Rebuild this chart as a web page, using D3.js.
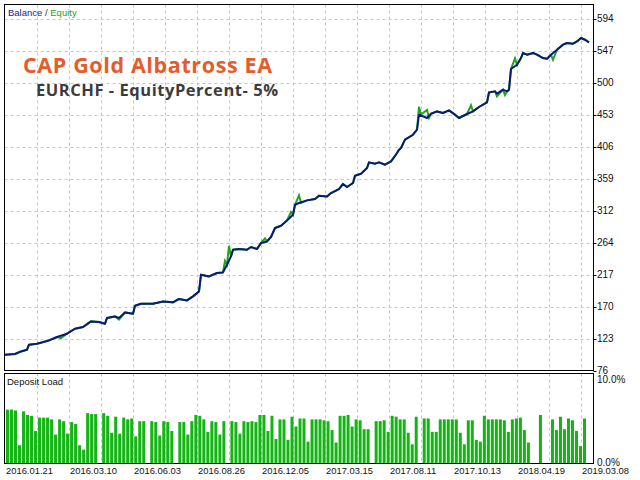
<!DOCTYPE html>
<html><head><meta charset="utf-8">
<script src="https://cdn.jsdelivr.net/npm/d3@7"></script>
<style>html,body{margin:0;padding:0;background:#fff;}svg{display:block;}</style>
</head><body>
<svg id="c" width="640" height="480"></svg>
<script>
// ---------- DATA ----------
const yTickLabels = [76,123,170,217,264,312,359,406,453,500,547,594];
const dateLabels = ["2016.01.21","2016.03.10","2016.06.03","2016.08.26","2016.12.05","2017.03.15","2017.08.11","2017.10.13","2018.04.19","2019.03.08"];
const totalTrades = 294;
// [trade #, balance]
const balance = [[0,100.0],[5,101.0],[8,104.8],[11,107.3],[12,114.7],[16,116.2],[22,121.0],[26,126.0],[31,130.9],[35,138.2],[39,140.7],[43,149.0],[47,148.1],[50,145.6],[51,154.0],[55,156.3],[57,154.0],[60,162.2],[64,160.3],[65,172.1],[68,175.0],[74,175.0],[79,178.4],[84,177.0],[87,182.0],[91,179.9],[94,185.8],[97,193.1],[98,217.7],[102,215.2],[106,220.2],[109,221.1],[111,232.4],[113,244.6],[114,254.5],[117,255.5],[121,254.5],[123,258.5],[126,255.5],[128,264.4],[131,266.7],[133,273.2],[135,286.4],[138,289.8],[141,297.6],[144,306.0],[145,320.7],[147,323.2],[151,327.1],[155,329.1],[157,334.0],[161,332.9],[163,337.9],[167,343.8],[169,351.2],[171,346.8],[174,352.7],[175,363.4],[178,366.3],[181,374.7],[182,383.0],[185,381.1],[187,383.0],[190,379.6],[193,384.4],[196,396.8],[197,401.7],[198,404.2],[200,416.4],[204,423.7],[206,431.1],[207,453.2],[211,448.3],[213,454.6],[216,458.0],[219,455.7],[222,459.5],[225,453.2],[227,448.3],[231,454.2],[234,458.0],[237,464.5],[241,471.3],[242,486.0],[245,487.5],[246,484.1],[249,490.0],[251,487.5],[252,490.0],[253,520.4],[256,526.7],[258,536.6],[259,544.0],[261,541.5],[264,544.0],[266,541.5],[269,536.6],[271,535.6],[273,541.5],[276,548.8],[279,556.2],[281,558.7],[284,557.7],[286,561.0],[288,566.0],[290,563.5],[292,559.6]];
// [trade #, equity]
const equity = [[0,100.0],[5,101.0],[8,104.8],[11,107.3],[12,114.7],[16,116.2],[22,121.0],[26,126.0],[28,124.5],[31,130.9],[35,138.2],[39,140.7],[43,149.0],[47,148.1],[50,145.6],[51,154.0],[55,156.3],[57,151.5],[60,162.2],[64,160.3],[65,172.1],[68,175.0],[74,175.0],[79,178.4],[84,177.0],[87,182.0],[91,179.9],[94,185.8],[97,193.1],[98,217.7],[102,215.2],[106,220.2],[109,221.1],[110,238.0],[111,232.4],[112,260.0],[113,244.6],[114,254.5],[117,255.5],[121,254.5],[123,258.5],[126,255.5],[128,264.4],[130,271.0],[131,266.7],[133,273.2],[135,286.4],[138,289.8],[141,297.6],[143,310.0],[144,306.0],[145,320.7],[147,334.5],[148,323.5],[151,327.1],[155,329.1],[157,334.0],[161,332.9],[163,337.9],[167,343.8],[169,351.2],[171,346.8],[174,352.7],[175,363.4],[178,366.3],[180,372.0],[181,374.7],[182,383.0],[185,381.1],[187,383.0],[190,379.6],[193,384.4],[195,392.0],[196,396.8],[197,401.7],[198,404.2],[200,416.4],[204,423.7],[206,431.1],[207,465.0],[208,453.5],[211,460.0],[212,448.5],[213,454.6],[216,458.0],[219,455.7],[222,459.5],[225,453.2],[227,448.3],[231,454.2],[233,467.0],[234,458.0],[237,464.5],[241,471.3],[242,486.0],[245,487.5],[246,480.0],[249,490.0],[250,482.0],[251,487.5],[252,490.0],[253,520.4],[255,536.0],[256,526.7],[258,536.6],[259,544.0],[261,541.5],[264,544.0],[266,541.5],[269,536.6],[271,535.6],[273,541.5],[274,534.0],[276,548.8],[279,556.2],[281,558.7],[284,557.7],[286,561.0],[288,566.0],[290,563.5],[292,559.6]];
// deposit load, % per bar
const depositLoad = [6.0,6.0,5.9,2.0,5.8,5.4,5.3,3.6,5.1,5.1,5.1,4.9,3.2,4.9,4.7,3.3,4.6,4.4,2.0,1.5,
5.6,5.5,5.5,0,5.6,5.3,3.4,5.2,3.3,5.1,4.9,5.0,3.0,4.7,4.7,0,4.7,4.6,3.1,4.7,
4.6,3.6,0,4.6,4.6,3.2,4.7,5.4,5.3,4.9,3.5,4.7,4.6,3.2,4.7,0,4.7,4.6,3.3,4.7,
4.6,4.7,4.6,5.4,5.4,3.6,5.3,2.7,4.9,4.9,2.6,5.2,4.1,5.0,5.0,2.4,4.9,4.9,4.9,4.8,
4.7,3.7,2.3,5.3,5.3,5.4,4.1,4.9,4.8,3.8,3.8,0,4.7,4.7,4.8,3.5,5.3,5.2,4.9,4.9,
3.4,2.1,5.2,0,5.0,5.0,3.5,3.5,4.9,4.9,4.9,4.9,4.9,3.4,2.1,4.8,4.8,2.6,2.4,5.3,
4.9,4.9,4.9,4.9,4.8,3.5,4.9,5.0,5.1,3.7,2.3,0,0,5.4,0,0,4.9,3.7,5.2,3.8,
5.0,4.8,3.6,1.9,5.0];
const loadTicks = [0,10];

// ---------- DRAW ----------
const svg = d3.select("#c");
const P = {l:4.5, r:593.5, t:4.5, b:370.5};
const D = {t:373.5, b:463.5};
const x = d3.scaleLinear().domain([0,totalTrades]).range([5,593]);
const y = d3.scaleLinear().domain([76,594]).range([371,19]);
const yd = d3.scaleLinear().domain([0,10]).range([463,374]);
const xb = d3.scaleBand().domain(d3.range(depositLoad.length)).range([6, 6+4*depositLoad.length]).paddingInner(0.25).paddingOuter(0);

const gridCol = "#c6c6c6";
const gridTrades = d3.range(16, totalTrades, 16);

const g = svg.append("g");
g.selectAll("line.vg").data(gridTrades).join("line")
  .attr("x1",d=>Math.round(x(d))+0.5).attr("x2",d=>Math.round(x(d))+0.5)
  .attr("y1",P.t).attr("y2",P.b).attr("stroke",gridCol).attr("stroke-dasharray","3,3");
g.selectAll("line.hg").data(yTickLabels.slice(1)).join("line")
  .attr("x1",P.l).attr("x2",P.r)
  .attr("y1",d=>Math.round(y(d))+0.5).attr("y2",d=>Math.round(y(d))+0.5)
  .attr("stroke",gridCol).attr("stroke-dasharray","3,3");
g.selectAll("line.dvg").data(gridTrades).join("line")
  .attr("x1",d=>Math.round(x(d))+0.5).attr("x2",d=>Math.round(x(d))+0.5)
  .attr("y1",D.t).attr("y2",D.b).attr("stroke",gridCol).attr("stroke-dasharray","3,3");

svg.append("clipPath").attr("id","mc").append("rect").attr("x",P.l).attr("y",P.t).attr("width",P.r-P.l).attr("height",P.b-P.t);

const line = d3.line().x(d=>x(d[0])).y(d=>y(d[1]));
svg.append("path").datum(equity).attr("d",line).attr("fill","none")
  .attr("stroke","#22a322").attr("stroke-width",2).attr("clip-path","url(#mc)");
svg.append("path").datum(balance).attr("d",line).attr("fill","none")
  .attr("stroke","#0a1a78").attr("stroke-width",2).attr("stroke-linejoin","round").attr("clip-path","url(#mc)");

svg.selectAll("rect.bar").data(depositLoad).join("rect")
  .attr("x",(d,i)=>xb(i)).attr("width",xb.bandwidth())
  .attr("y",d=>yd(d)).attr("height",d=>yd(0)-yd(d))
  .attr("fill","#14b414");

svg.append("rect").attr("x",P.l).attr("y",P.t).attr("width",P.r-P.l).attr("height",P.b-P.t)
  .attr("fill","none").attr("stroke","#000");
svg.append("rect").attr("x",P.l).attr("y",D.t).attr("width",P.r-P.l).attr("height",D.b-D.t)
  .attr("fill","none").attr("stroke","#000");

const fnt = "Liberation Sans, Arial, sans-serif";
svg.selectAll("line.yt").data(yTickLabels).join("line")
  .attr("x1",P.r).attr("x2",P.r+3)
  .attr("y1",d=>Math.round(y(d))+0.5).attr("y2",d=>Math.round(y(d))+0.5).attr("stroke","#000");
svg.selectAll("text.yl").data(yTickLabels).join("text")
  .attr("x",597).attr("y",d=>y(d)+3).text(d=>d)
  .attr("font-family",fnt).attr("font-size",10).attr("fill","#111");
svg.selectAll("text.dl").data(loadTicks).join("text")
  .attr("x",597).attr("y",d=>Math.max(yd(d), 380)+3).text(d=>d.toFixed(1)+"%")
  .attr("font-family",fnt).attr("font-size",10).attr("fill","#111");

svg.selectAll("text.xl").data(dateLabels).join("text")
  .attr("x",(d,i)=>x(i*32)+1).attr("y",474).text(d=>d)
  .attr("font-family",fnt).attr("font-size",9.4).attr("fill","#111");

const lt = svg.append("text").attr("x",8).attr("y",16).attr("font-family",fnt).attr("font-size",9.5);
lt.append("tspan").attr("fill","#1c1c8c").text("Balance");
lt.append("tspan").attr("fill","#333").text(" / ");
lt.append("tspan").attr("fill","#22a322").text("Equity");
svg.append("text").attr("x",7).attr("y",385).attr("font-family",fnt).attr("font-size",9.5).attr("fill","#111").text("Deposit Load");

svg.append("text").attr("x",23).attr("y",72.5).attr("font-family","Open Sans, sans-serif").attr("font-weight",700)
  .attr("font-size",21.5).attr("fill","#e45c2c").attr("textLength",249).attr("lengthAdjust","spacing")
  .text("CAP Gold Albatross EA");
svg.append("text").attr("x",36).attr("y",96).attr("font-family","Open Sans, sans-serif").attr("font-weight",700)
  .attr("font-size",16.5).attr("fill","#3c3c3c").attr("textLength",242).attr("lengthAdjust","spacing")
  .text("EURCHF - EquityPercent- 5%");
</script>
</body></html>
